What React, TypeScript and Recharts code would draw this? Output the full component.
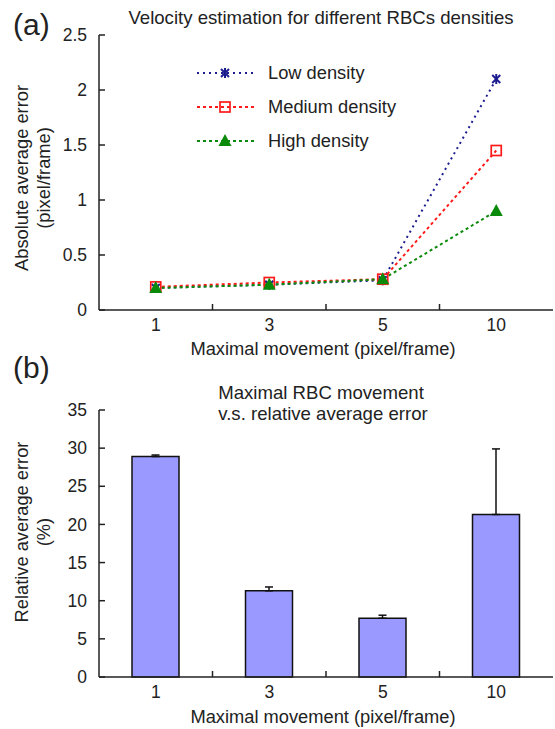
import React from 'react';
import { LineChart, Line, BarChart, Bar, ErrorBar, XAxis, YAxis, Legend } from 'recharts';

// ---- data ----
const categories = ['1', '3', '5', '10'];
const lowDensity = [0.2, 0.23, 0.27, 2.1];
const mediumDensity = [0.21, 0.25, 0.28, 1.45];
const highDensity = [0.2, 0.23, 0.28, 0.9];
const velocityTicks = [0, 0.5, 1, 1.5, 2, 2.5];
const relativeError = [28.9, 11.3, 7.7, 21.3];
const relativeErrorUp = [0.2, 0.5, 0.4, 8.6];
const percentTicks = [0, 5, 10, 15, 20, 25, 30, 35];
const seriesNames = ['Low density', 'Medium density', 'High density'];
const xTicks = [0, 0.5, 1, 1.5, 2, 2.5, 3];

const FONT = '"Liberation Sans", Arial, Helvetica, sans-serif';
const INK = '#222';
const NAVY = '#1c1c8f';
const RED = '#ff1a1a';
const GREEN = '#0a8a0a';
const TICK_FS = 17.5;
const LABEL_FS = 18.3;
const TITLE_FS = 18.6;

const lineData = categories.map((c, i) => ({
  x: i,
  label: c,
  low: lowDensity[i],
  medium: mediumDensity[i],
  high: highDensity[i],
}));
const barData = categories.map((c, i) => ({
  x: i,
  label: c,
  value: relativeError[i],
  err: [0, relativeErrorUp[i]],
}));

function XTick(props: any) {
  const { x, y, payload } = props;
  const v = payload.value;
  if (Number.isInteger(v)) {
    return (
      <text x={x} y={y + 21} textAnchor="middle" fontSize={TICK_FS} fontFamily={FONT} fill={INK}>
        {categories[v]}
      </text>
    );
  }
  return <line x1={x} x2={x} y1={y} y2={y - 6} stroke={INK} strokeWidth={1.5} />;
}

function StarDot(props: any) {
  const { cx, cy } = props;
  if (cx == null || cy == null) return <g />;
  const r = 4;
  return (
    <g stroke={NAVY} strokeWidth={2}>
      <line x1={cx - r} y1={cy - r} x2={cx + r} y2={cy + r} />
      <line x1={cx - r} y1={cy + r} x2={cx + r} y2={cy - r} />
      <line x1={cx} y1={cy - r - 1} x2={cx} y2={cy + r + 1} />
    </g>
  );
}

function SquareDot(props: any) {
  const { cx, cy } = props;
  if (cx == null || cy == null) return <g />;
  return <rect x={cx - 5} y={cy - 5} width={10} height={10} fill="none" stroke={RED} strokeWidth={1.7} />;
}

function TriangleDot(props: any) {
  const { cx, cy } = props;
  if (cx == null || cy == null) return <g />;
  return <polygon points={`${cx},${cy - 7} ${cx - 6.5},${cy + 5} ${cx + 6.5},${cy + 5}`} fill={GREEN} />;
}

const legendItems = [
  { key: 'low', name: seriesNames[0], color: NAVY, dash: '2 4', Marker: StarDot },
  { key: 'medium', name: seriesNames[1], color: RED, dash: '3 3', Marker: SquareDot },
  { key: 'high', name: seriesNames[2], color: GREEN, dash: '3 3', Marker: TriangleDot },
];

function LegendContent() {
  return (
    <div style={{ display: 'flex', flexDirection: 'column' }}>
      {legendItems.map((it) => (
        <div key={it.key} style={{ display: 'flex', alignItems: 'center', height: 34 }}>
          <svg width={71} height={20} style={{ display: 'block', flex: 'none' }}>
            <line x1={0} x2={58} y1={10} y2={10} stroke={it.color} strokeWidth={2} strokeDasharray={it.dash} />
            <it.Marker cx={28} cy={10} />
          </svg>
          <span style={{ fontSize: LABEL_FS, fontFamily: FONT, color: INK, whiteSpace: 'nowrap' }}>{it.name}</span>
        </div>
      ))}
    </div>
  );
}

const axisLineStyle = { stroke: INK, strokeWidth: 1.5 };
const yTickStyle = { fontSize: TICK_FS, fill: INK, fontFamily: FONT };

export default function App() {
  return (
    <div style={{ position: 'absolute', left: 0, top: 0, width: 555, height: 729, background: '#fff', overflow: 'hidden' }}>
      <div style={{ position: 'absolute', left: 0, top: 0 }}>
        <LineChart width={555} height={370} data={lineData} margin={{ top: 35, right: 2, bottom: 0, left: 0 }}>
          <XAxis
            dataKey="x"
            type="number"
            domain={[-0.5, 3.5]}
            ticks={xTicks}
            interval={0}
            allowDecimals
            tick={(p: any) => <XTick {...p} />}
            tickLine={false}
            tickSize={0}
            tickMargin={0}
            height={60}
            axisLine={axisLineStyle}
          />
          <YAxis
            type="number"
            domain={[0, 2.5]}
            ticks={velocityTicks}
            interval={0}
            width={99}
            tickSize={-6}
            tickMargin={18}
            tickLine={axisLineStyle}
            axisLine={axisLineStyle}
            tick={yTickStyle}
          />
          <Legend
            layout="vertical"
            align="center"
            verticalAlign="middle"
            content={() => <LegendContent />}
            wrapperStyle={{ left: 197, top: 56, width: 240, height: 102 }}
          />
          <Line
            dataKey="low"
            name={seriesNames[0]}
            stroke={NAVY}
            strokeWidth={2}
            strokeDasharray="2 4"
            dot={(p: any) => <StarDot key={`l${p.index}`} {...p} />}
            isAnimationActive={false}
          />
          <Line
            dataKey="medium"
            name={seriesNames[1]}
            stroke={RED}
            strokeWidth={2}
            strokeDasharray="3 3"
            dot={(p: any) => <SquareDot key={`m${p.index}`} {...p} />}
            isAnimationActive={false}
          />
          <Line
            dataKey="high"
            name={seriesNames[2]}
            stroke={GREEN}
            strokeWidth={2}
            strokeDasharray="3 3"
            dot={(p: any) => <TriangleDot key={`h${p.index}`} {...p} />}
            isAnimationActive={false}
          />
        </LineChart>
      </div>
      <div style={{ position: 'absolute', left: 0, top: 360 }}>
        <BarChart width={555} height={369} data={barData} margin={{ top: 50, right: 2, bottom: 0, left: 0 }}>
          <XAxis
            dataKey="x"
            type="number"
            domain={[-0.5, 3.5]}
            ticks={xTicks}
            interval={0}
            allowDecimals
            tick={(p: any) => <XTick {...p} />}
            tickLine={false}
            tickSize={0}
            tickMargin={0}
            height={52}
            axisLine={axisLineStyle}
          />
          <YAxis
            type="number"
            domain={[0, 35]}
            ticks={percentTicks}
            interval={0}
            width={99}
            tickSize={-6}
            tickMargin={18}
            tickLine={axisLineStyle}
            axisLine={axisLineStyle}
            tick={yTickStyle}
          />
          <Bar dataKey="value" barSize={47} fill="#9999ff" stroke="#111" strokeWidth={1.5} isAnimationActive={false}>
            <ErrorBar dataKey="err" width={4} stroke="#111" strokeWidth={1.5} direction="y" isAnimationActive={false} />
          </Bar>
        </BarChart>
      </div>
      <svg width={555} height={729} style={{ position: 'absolute', left: 0, top: 0, pointerEvents: 'none' }} fontFamily={FONT} fill={INK}>
        <text x={13} y={35} fontSize={30}>(a)</text>
        <text x={321} y={24} fontSize={TITLE_FS} textAnchor="middle">Velocity estimation for different RBCs densities</text>
        <text transform="translate(28,178) rotate(-90)" fontSize={LABEL_FS} textAnchor="middle">Absolute average error</text>
        <text transform="translate(50,178) rotate(-90)" fontSize={LABEL_FS} textAnchor="middle">(pixel/frame)</text>
        <text x={323} y={355} fontSize={LABEL_FS} textAnchor="middle">Maximal movement (pixel/frame)</text>

        <text x={13} y={378} fontSize={30}>(b)</text>
        <text x={321} y={399} fontSize={TITLE_FS} textAnchor="middle">Maximal RBC movement</text>
        <text x={323} y={420} fontSize={TITLE_FS} textAnchor="middle">v.s. relative average error</text>
        <text transform="translate(28,532) rotate(-90)" fontSize={LABEL_FS} textAnchor="middle">Relative average error</text>
        <text transform="translate(50,532) rotate(-90)" fontSize={LABEL_FS} textAnchor="middle">(%)</text>
        <text x={323} y={723} fontSize={LABEL_FS} textAnchor="middle">Maximal movement (pixel/frame)</text>
      </svg>
    </div>
  );
}
